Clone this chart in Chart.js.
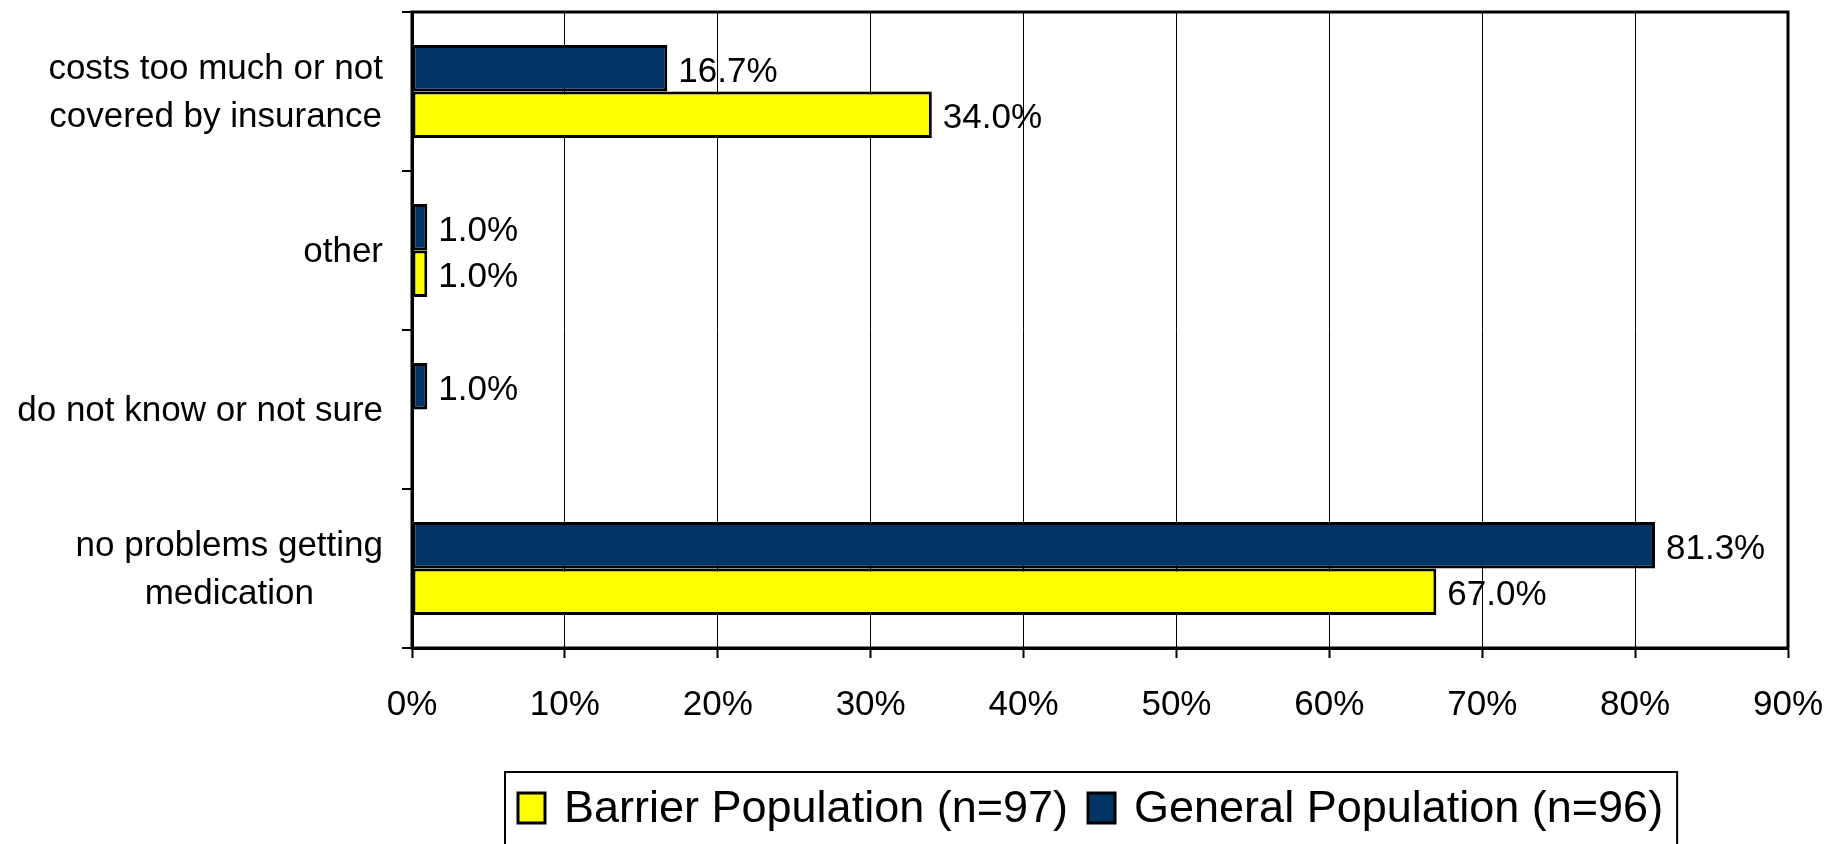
<!DOCTYPE html>
<html>
<head>
<meta charset="utf-8">
<script src="https://cdn.jsdelivr.net/npm/chart.js@4"></script>
<style>
  body { margin: 0; background: #fff; }
  canvas { display: block; }
</style>
</head>
<body>
<canvas id="chart" width="1843" height="844"></canvas>
<script>
// data
let categories = [
    ["costs too much or not", "covered by insurance"],
    ["other"],
    ["do not know or not sure"],
    ["no problems getting", "medication"]
];
let generalPop = [16.7, 1.0, 1.0, 81.3];
let barrierPop = [34.0, 1.0, null, 67.0];
let seriesNames = ["General Population (n=96)", "Barrier Population (n=97)"];
let xMax = 90;
let xStep = 10;

let FONT = "'Liberation Sans', Arial, sans-serif";

//category labels: block right aligned, lines centered in it
let catLabels = {
    id: "catLabels",
    afterDraw(chart) {
        let ctx = chart.ctx;
        let y = chart.scales.y;
        ctx.save();
        ctx.font = "35px " + FONT;
        ctx.fillStyle = "#000";
        ctx.textAlign = "center";
        ctx.textBaseline = "middle";
        let right = chart.chartArea.left - 29;
        let lh = 48;
        for (let i = 0; i < categories.length; i++) {
            let lines = categories[i];
            let maxW = 0;
            for (let j = 0; j < lines.length; j++) {
                maxW = Math.max(maxW, ctx.measureText(lines[j]).width);
            }
            let cx = right - maxW / 2;
            let cy = y.getPixelForTick(i) + 2;
            for (let j = 0; j < lines.length; j++) {
                ctx.fillText(lines[j], cx, cy + (j - (lines.length - 1) / 2) * lh);
            }
        }
        ctx.restore();
    }
};

//values at the end of each bar
let valueLabels = {
    id: "valueLabels",
    afterDatasetsDraw(chart) {
        let ctx = chart.ctx;
        ctx.save();
        ctx.font = "35px " + FONT;
        ctx.fillStyle = "#000";
        ctx.textAlign = "left";
        ctx.textBaseline = "middle";
        chart.data.datasets.forEach(function (ds, di) {
            let meta = chart.getDatasetMeta(di);
            meta.data.forEach(function (bar, i) {
                let v = ds.data[i];
                if (v === null) return;
                ctx.fillText(v.toFixed(1) + "%", bar.x + 11, bar.y + 4);
            });
        });
        ctx.restore();
    }
};

//frame round the plot + legend box
let frame = {
    id: "frame",
    afterDraw(chart) {
        let ctx = chart.ctx;
        let a = chart.chartArea;
        ctx.save();
        ctx.strokeStyle = "#000";
        ctx.lineWidth = 3;
        ctx.strokeRect(a.left, a.top, a.right - a.left, a.bottom - a.top);

        // legend (Barrier first, like the original)
        let items = [chart.data.datasets[1], chart.data.datasets[0]];
        ctx.font = "45px " + FONT;
        ctx.textBaseline = "alphabetic";
        ctx.textAlign = "left";
        let x = 518;
        let boxRight = 0;
        items.forEach(function (ds) {
            ctx.fillStyle = ds.backgroundColor;
            ctx.fillRect(x, 793, 27, 30);
            ctx.lineWidth = 3;
            ctx.strokeRect(x, 793, 27, 30);
            ctx.fillStyle = "#000";
            ctx.fillText(ds.label, x + 46, 822);
            let w = ctx.measureText(ds.label).width;
            boxRight = x + 46 + w;
            x = boxRight + 20;
        });
        ctx.lineWidth = 2;
        ctx.strokeRect(505, 772, boxRight + 14 - 505, 100);
        ctx.restore();
    }
};

new Chart("chart", {
    type: "bar",
    data: {
        labels: categories,
        datasets: [{
            label: seriesNames[0],
            data: generalPop,
            backgroundColor: "#003366",
            borderColor: "#000",
            borderWidth: 3,
            borderSkipped: false
        }, {
            label: seriesNames[1],
            data: barrierPop,
            backgroundColor: "#FFFF00",
            borderColor: "#000",
            borderWidth: 3,
            borderSkipped: false
        }]
    },
    options: {
        indexAxis: "y",
        responsive: false,
        devicePixelRatio: 1,
        animation: false,
        barPercentage: 1,
        categoryPercentage: 0.585,
        layout: {
            padding: { top: 12, right: 55, left: 0, bottom: 116 }
        },
        plugins: {
            legend: { display: false },
            tooltip: { enabled: false }
        },
        scales: {
            x: {
                min: 0,
                max: xMax,
                ticks: {
                    stepSize: xStep,
                    color: "#000",
                    padding: 26,
                    font: { size: 35, family: FONT },
                    callback: function (v) { return v + "%"; }
                },
                grid: {
                    color: "#000",
                    lineWidth: 1,
                    tickLength: 10,
                    tickWidth: 2
                },
                border: { color: "#000", width: 3 },
                afterFit: function (scale) {
                    scale.height = 80;
                    scale.paddingLeft = 0;
                    scale.paddingRight = 0;
                }
            },
            y: {
                ticks: { display: false },
                grid: {
                    offset: true,
                    drawOnChartArea: false,
                    color: "#000",
                    lineWidth: 2,
                    tickLength: 10
                },
                border: { color: "#000", width: 3 },
                afterFit: function (scale) { scale.width = 412; }
            }
        }
    },
    plugins: [catLabels, valueLabels, frame]
});
</script>
</body>
</html>
